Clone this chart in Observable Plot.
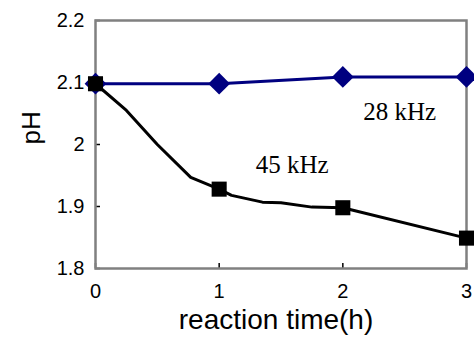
<!DOCTYPE html>
<html><head><meta charset="utf-8">
<script src="https://cdn.jsdelivr.net/npm/d3@7"></script>
<script src="https://cdn.jsdelivr.net/npm/@observablehq/plot@0.6"></script>
<style>body{margin:0;background:#fff}</style>
</head><body><div id="chart"></div>
<script>
// 28 kHz series (markers and line)
const time28 = [0, 1, 2, 3];
const pH28 = [2.098, 2.098, 2.109, 2.109];
// 45 kHz series: line readings taken along the drawn curve, and marker readings
const time45Line = [0, 0.25, 0.5, 0.77, 1, 1.1, 1.35, 1.5, 1.75, 2, 3];
const pH45Line = [2.098, 2.055, 2.0, 1.947, 1.928, 1.918, 1.907, 1.906, 1.899, 1.898, 1.849];
const time45 = [0, 1, 2, 3];
const pH45 = [2.098, 1.928, 1.898, 1.849];
// ticks
const xTicks = [0, 1, 2, 3];
const yTicks = [1.8, 1.9, 2, 2.1, 2.2];
const xTitle = "reaction time(h)";
const yTitle = "pH";
const seriesLabels = ["28 kHz", "45 kHz"];
const labelTime = [2.46, 1.59];
const labelPH = [2.052, 1.967];

const d28 = time28.map((t, i) => ({t, pH: pH28[i]}));
const d45Line = time45Line.map((t, i) => ({t, pH: pH45Line[i]}));
const d45 = time45.map((t, i) => ({t, pH: pH45[i]}));
const labels = seriesLabels.map((label, i) => ({label, t: labelTime[i], pH: labelPH[i]}));

const plot = Plot.plot({
  width: 474, height: 344,
  marginLeft: 95, marginRight: 8, marginTop: 20, marginBottom: 76,
  x: {domain: [0, 3]},
  y: {domain: [1.8, 2.2]},
  style: {fontFamily: "'Liberation Sans', Arial, sans-serif", background: "#fff", color: "#000"},
  marks: [
    Plot.axisX(xTicks, {tickSize: 0, tickPadding: 15, fontSize: 20, label: null, tickFormat: d => String(d)}),
    Plot.axisX(xTicks, {tickSize: 5, dy: -5, strokeWidth: 1.5, tickFormat: () => "", label: null}),
    Plot.axisY(yTicks, {tickSize: 0, tickPadding: 11, fontSize: 20, label: null, tickFormat: d => String(d)}),
    Plot.axisY(yTicks, {tickSize: 5, dx: 5, strokeWidth: 1.5, tickFormat: () => "", label: null}),
    Plot.frame({stroke: "#808080", strokeWidth: 2.5}),
    Plot.line(d28, {x: "t", y: "pH", stroke: "#000080", strokeWidth: 3}),
    Plot.dot(d28, {x: "t", y: "pH", symbol: "diamond2", r: 9.8, fill: "#000080", stroke: "none"}),
    Plot.line(d45Line, {x: "t", y: "pH", stroke: "#000", strokeWidth: 3}),
    Plot.dot(d45, {x: "t", y: "pH", symbol: "square", r: 8.5, fill: "#000", stroke: "none"}),
    Plot.text(labels, {x: "t", y: "pH", text: "label", fontSize: 25, fontFamily: "'Liberation Serif', 'Times New Roman', serif", fill: "#000"}),
    Plot.text([xTitle], {frameAnchor: "bottom", dy: 60, dx: -5, fontSize: 28, fill: "#000"}),
    Plot.text([yTitle], {frameAnchor: "left", dx: -64, rotate: -90, fontSize: 26, fill: "#000"})
  ]
});
document.getElementById("chart").appendChild(plot);
</script>
</body></html>
